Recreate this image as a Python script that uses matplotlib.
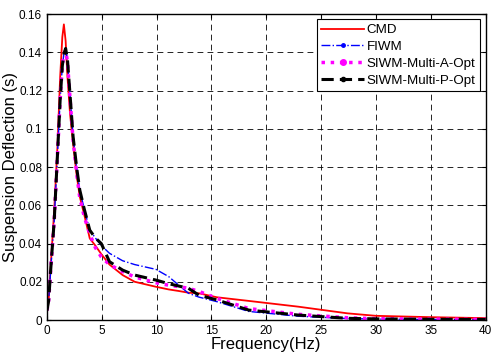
import numpy as np
import matplotlib.pyplot as plt
from matplotlib.lines import Line2D

plt.rcParams['font.family'] = ['Liberation Sans', 'DejaVu Sans']

# frequency samples (Hz)
freq = [0, 0.15, 0.36, 0.66, 0.97, 1.2, 1.4, 1.54, 1.7, 1.87, 2.1, 2.38, 2.7, 2.99,
        3.4, 3.9, 4.4, 4.95, 5.7, 6.9, 8.0, 9.93, 11.1, 12.0, 12.9, 13.85, 15.5,
        18.4, 22.9, 27.4, 30, 35, 40]

cmd = [0.004, 0.010, 0.030, 0.0575, 0.0925, 0.127, 0.148, 0.1546, 0.146, 0.127,
       0.108, 0.0925, 0.076, 0.0645, 0.055, 0.0427, 0.039, 0.0345, 0.029, 0.0235,
       0.020, 0.0174, 0.0160, 0.0152, 0.0143, 0.0140, 0.0119, 0.0100, 0.007,
       0.0035, 0.0022, 0.0015, 0.0010]

fiwm = [0.005, 0.010, 0.028, 0.052, 0.088, 0.115, 0.133, 0.139, 0.142, 0.136,
        0.118, 0.096, 0.080, 0.068, 0.058, 0.047, 0.043, 0.039, 0.0349, 0.0310,
        0.0290, 0.0265, 0.0227, 0.0183, 0.0140, 0.0120, 0.0096, 0.0045, 0.0020,
        0.0008, 0.0005, 0.0003, 0.0002]

siwm_a = [0.005, 0.010, 0.028, 0.052, 0.088, 0.115, 0.133, 0.139, 0.141, 0.135,
          0.116, 0.094, 0.077, 0.064, 0.054, 0.045, 0.038, 0.033, 0.0290, 0.0253,
          0.0225, 0.0195, 0.0182, 0.0175, 0.0166, 0.0150, 0.0113, 0.0060, 0.0030,
          0.0012, 0.0007, 0.0005, 0.0003]

siwm_p = [0.005, 0.010, 0.028, 0.052, 0.088, 0.115, 0.133, 0.139, 0.142, 0.136,
          0.118, 0.096, 0.080, 0.068, 0.058, 0.047, 0.043, 0.040, 0.0305, 0.0261,
          0.0235, 0.0209, 0.0190, 0.0178, 0.0166, 0.0130, 0.0105, 0.0052, 0.0026,
          0.0009, 0.0006, 0.0004, 0.0003]

fig = plt.figure(figsize=(4.94, 3.6), dpi=100)
ax = fig.add_axes([0.0951, 0.111, 0.888, 0.85])

ax.plot(freq, cmd, color='red', lw=1.3, label='CMD')
ax.plot(freq, fiwm, color='blue', lw=1.0, ls='-.', label='FIWM')
ax.plot(freq, siwm_a, color='magenta', lw=2.5, ls=':', label='SIWM-Multi-A-Opt')
ax.plot(freq, siwm_p, color='black', lw=2.2, ls=(0, (4, 2)), label='SIWM-Multi-P-Opt')

ax.set_xlim(0, 40)
ax.set_ylim(0, 0.16)
ax.set_xticks(np.arange(0, 41, 5))
ax.set_yticks(np.arange(0, 0.161, 0.02))
ax.set_yticklabels(['0', '0.02', '0.04', '0.06', '0.08', '0.1', '0.12', '0.14', '0.16'])
ax.tick_params(direction='in', labelsize=8.5, length=3, top=True, right=True)
ax.grid(True, color='black', ls=(0, (7, 5)), lw=0.6)
for s in ax.spines.values():
    s.set_linewidth(1.0)

ax.set_xlabel('Frequency(Hz)', fontsize=12, labelpad=0)
ax.set_ylabel('Suspension Deflection (s)', fontsize=12, labelpad=1)

handles = [
    Line2D([], [], color='red', lw=1.3),
    Line2D([], [], color='blue', lw=1.0, ls='-.', marker='.', markersize=5),
    Line2D([], [], color='magenta', lw=2.5, ls=':', marker='.', markersize=8),
    Line2D([], [], color='black', lw=2.2, ls=(0, (4, 2)), marker='.', markersize=6),
]
leg = ax.legend(handles, ['CMD', 'FIWM', 'SIWM-Multi-A-Opt', 'SIWM-Multi-P-Opt'],
                loc='upper right', fontsize=9.6, fancybox=False, framealpha=1,
                edgecolor='black', borderaxespad=0.4, handlelength=3.2,
                handletextpad=0.2, labelspacing=0.33, borderpad=0.35)
leg.get_frame().set_linewidth(0.8)

fig.savefig('out.png', dpi=100)
